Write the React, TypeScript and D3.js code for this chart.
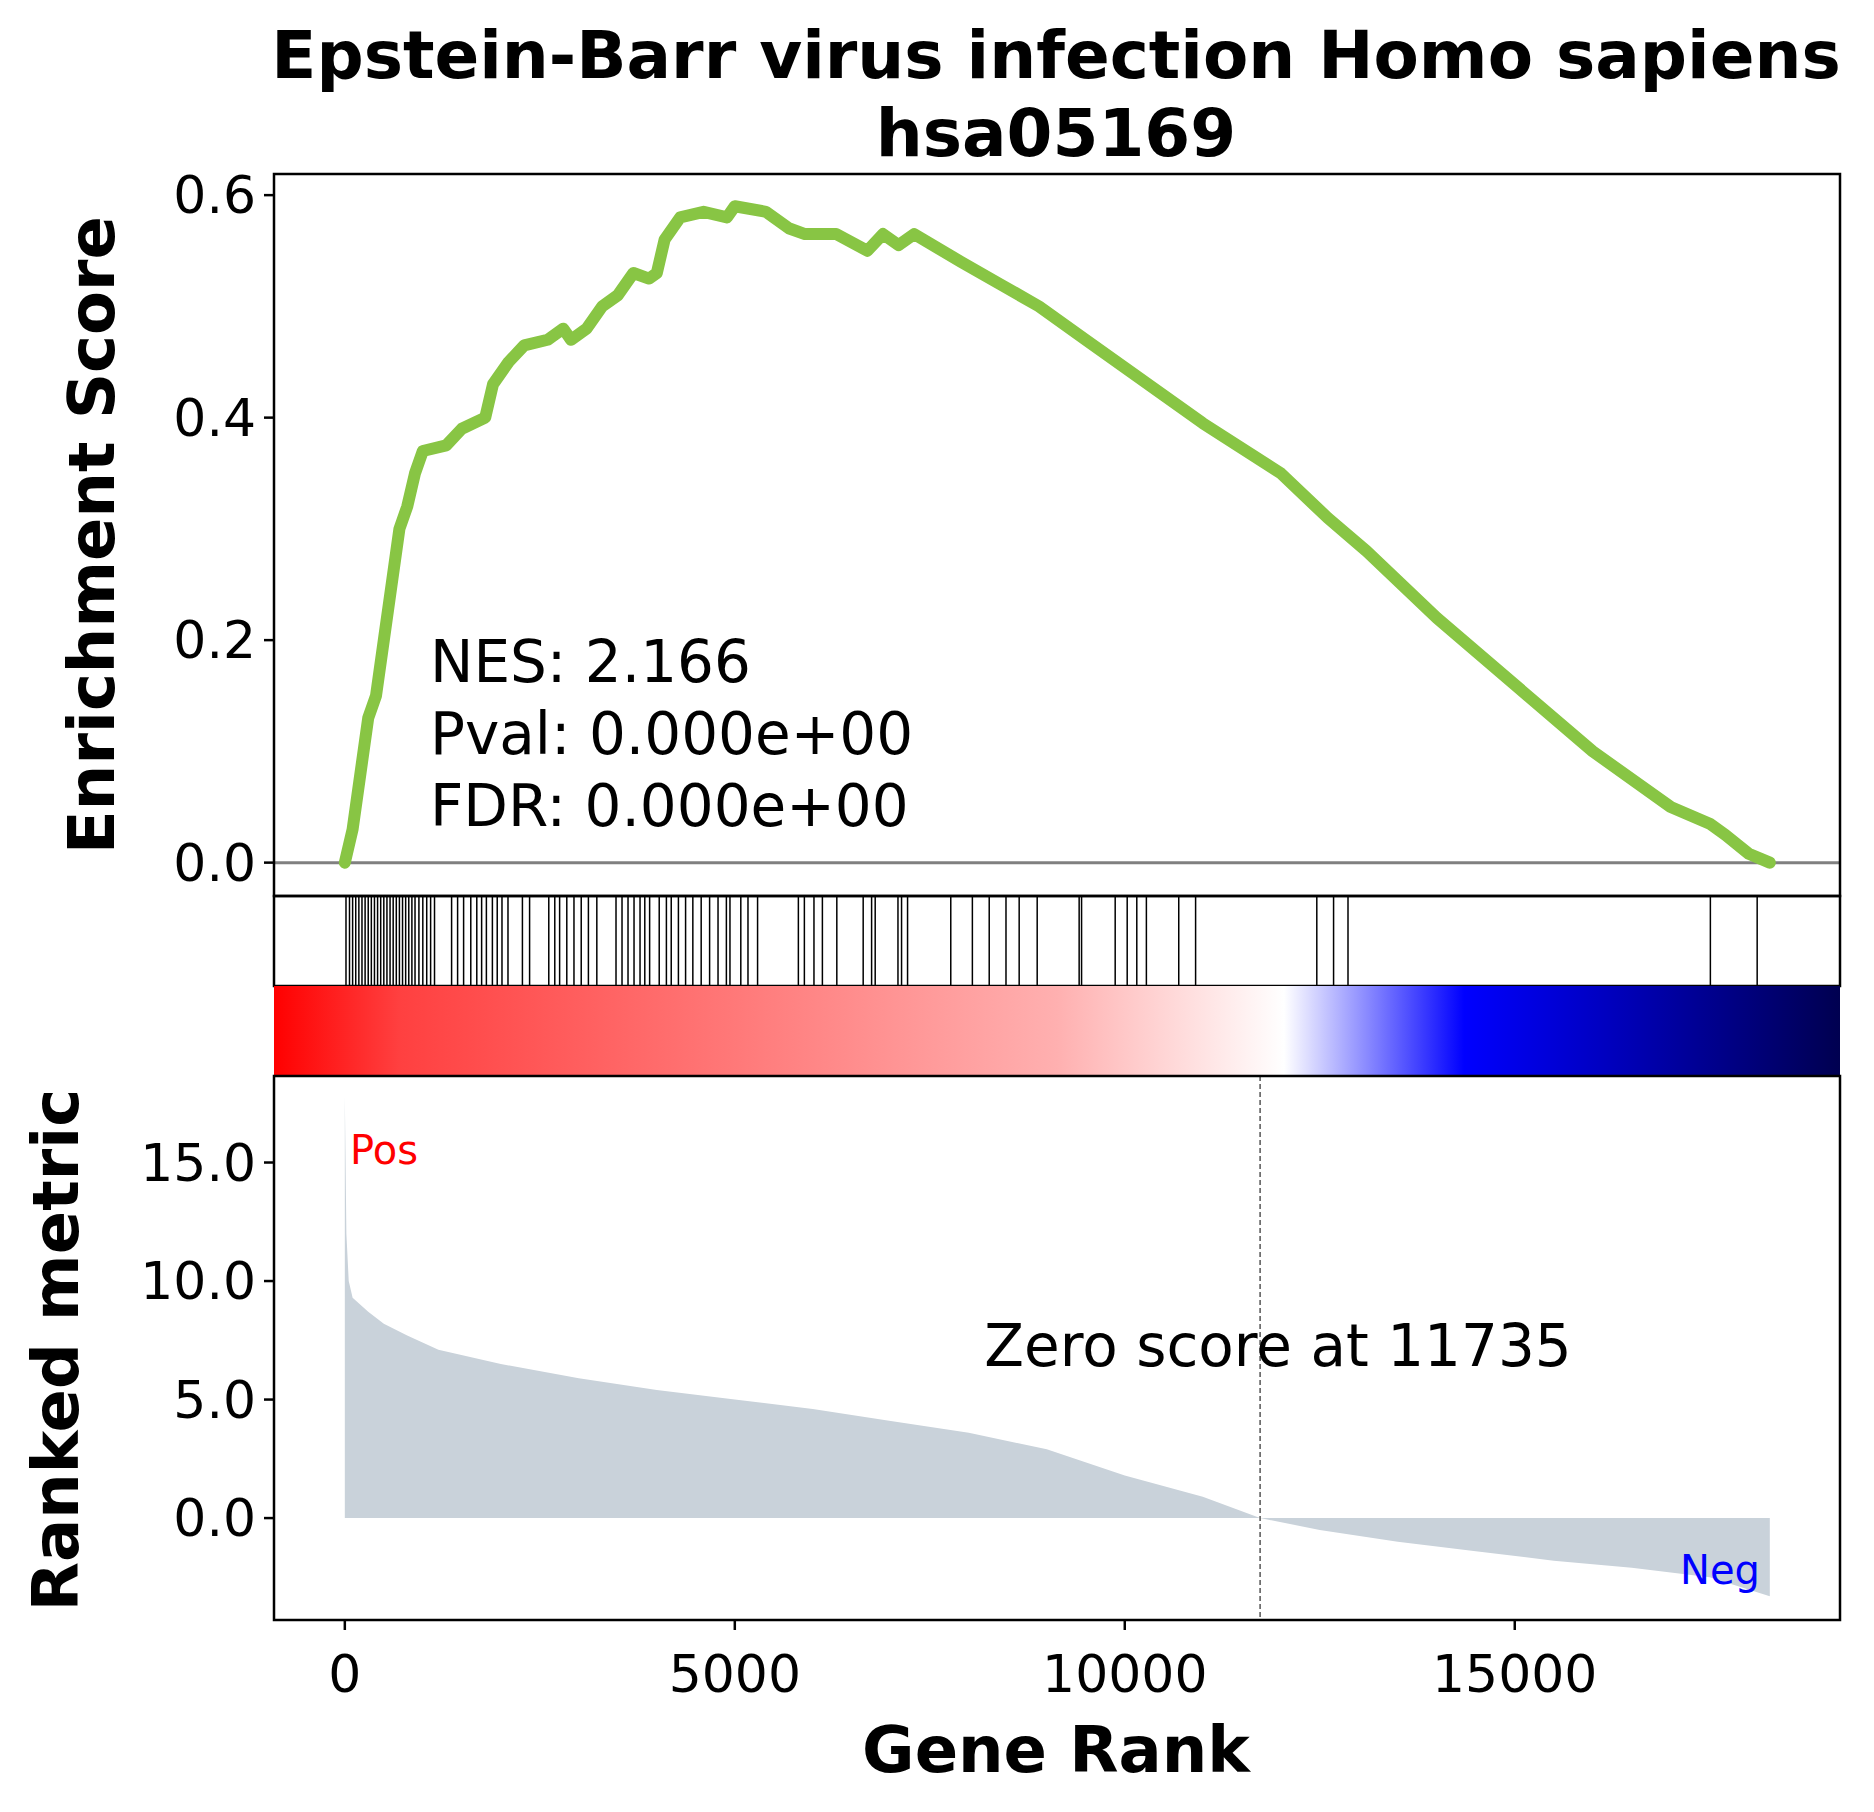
import React from 'react';
import * as d3 from 'd3';

const esCurve: [number, number][] = [
  [0, 0], [100, 0.03], [200, 0.08], [300, 0.13], [400, 0.15], [500, 0.2], [600, 0.25], [700, 0.3],
  [800, 0.32], [900, 0.35], [1000, 0.37], [1300, 0.375], [1500, 0.39], [1800, 0.4], [1900, 0.43],
  [2100, 0.45], [2300, 0.465], [2600, 0.47], [2800, 0.48], [2900, 0.47], [3100, 0.48], [3300, 0.5],
  [3500, 0.51], [3700, 0.53], [3900, 0.525], [4000, 0.53], [4100, 0.56], [4300, 0.58], [4600, 0.585],
  [4900, 0.58], [5000, 0.59], [5400, 0.585], [5700, 0.57], [5900, 0.565], [6300, 0.565], [6700, 0.55],
  [6900, 0.565], [7100, 0.555], [7300, 0.565], [7900, 0.54], [8400, 0.52], [8900, 0.5], [9500, 0.47],
  [10000, 0.445], [10500, 0.42], [11000, 0.395], [12000, 0.35], [12600, 0.31], [13100, 0.28],
  [14000, 0.22], [15000, 0.16], [16000, 0.1], [17000, 0.05], [17500, 0.035], [17700, 0.025],
  [18000, 0.008], [18270, 0],
];

const hitRanks = [
  15, 60, 100, 140, 180, 220, 260, 300, 340, 380, 420, 460, 500, 540, 580, 620, 660, 700, 740, 780,
  820, 860, 900, 950, 1000, 1050, 1100, 1150, 1369, 1446, 1523, 1615, 1692, 1754, 1815, 1892, 1954,
  2015, 2092, 2277, 2369, 2615, 2692, 2754, 2846, 2938, 3031, 3123, 3231, 3477, 3554, 3631, 3708,
  3785, 3846, 3908, 4031, 4123, 4185, 4277, 4369, 4462, 4569, 4677, 4785, 4892, 4938, 5077, 5169,
  5292, 5815, 5892, 6015, 6123, 6308, 6646, 6754, 6800, 7092, 7138, 7215, 7769, 8046, 8262, 8477,
  8646, 8877, 9415, 9446, 9877, 10031, 10154, 10277, 10692, 10908, 12462, 12677, 12862, 17508, 18108,
];

const rankedMetric: [number, number][] = [
  [0, 17.8], [20, 12], [50, 10], [100, 9.3], [300, 8.7], [500, 8.2], [800, 7.7], [1200, 7.1],
  [2000, 6.5], [3000, 5.9], [4000, 5.4], [5000, 5.0], [6000, 4.6], [7000, 4.1], [8000, 3.6],
  [9000, 2.9], [10000, 1.8], [11000, 0.9], [11735, 0], [12500, -0.5], [13500, -1.0], [14500, -1.4],
  [15500, -1.8], [16500, -2.1], [17500, -2.5], [18270, -3.3],
];

const esTicks = [0, 0.2, 0.4, 0.6];
const metricTicks = [0, 5, 10, 15];
const rankTicks = [0, 5000, 10000, 15000];

const L = 274, R = 1840;
const T1 = 174, B1 = 896, B2 = 986, B3 = 1076, B4 = 1620;
const font = 'DejaVu Sans';

export default function App() {
  const x = d3.scaleLinear().domain([-908, 19170]).range([L, R]);
  const yEs = d3.scaleLinear().domain([-0.030, 0.619]).range([B1, T1]);
  const yM = d3.scaleLinear().domain([-4.3, 18.65]).range([B4, B3]);

  const esLine = d3.line<[number, number]>().x(d => x(d[0])).y(d => yEs(d[1]));
  const area = d3.area<[number, number]>().x(d => x(d[0])).y0(yM(0)).y1(d => yM(d[1]));

  const stops: [number, string][] = [
    [0, '#ff0000'], [0.08, '#ff4040'], [0.3, '#ff7a7a'], [0.5, '#ffb0b0'],
    [0.645, '#ffffff'], [0.76, '#0000ff'], [0.85, '#0000c0'], [1, '#000050'],
  ];

  return (
    <svg width={1874} height={1812} style={{ display: 'block', margin: -8 }} fontFamily={font}>
      <defs>
        <linearGradient id="cb" x1="0" x2="1" y1="0" y2="0">
          {stops.map(([o, c]) => <stop key={o} offset={o} stopColor={c} />)}
        </linearGradient>
      </defs>
      <text x={1056} y={78} textAnchor="middle" fontSize={66} fontWeight="bold">Epstein-Barr virus infection Homo sapiens</text>
      <text x={1056} y={156} textAnchor="middle" fontSize={66} fontWeight="bold">hsa05169</text>

      {/* ES panel */}
      <line x1={L} x2={R} y1={yEs(0)} y2={yEs(0)} stroke="#808080" strokeWidth={3} />
      <path d={esLine(esCurve)!} fill="none" stroke="#88c544" strokeWidth={12} strokeLinejoin="round" strokeLinecap="round" />
      {esTicks.map(t => (
        <g key={t}>
          <line x1={L - 10} x2={L} y1={yEs(t)} y2={yEs(t)} stroke="black" strokeWidth={2.5} />
          <text x={L - 18} y={yEs(t) + 18} textAnchor="end" fontSize={52}>{t.toFixed(1)}</text>
        </g>
      ))}
      {['NES: 2.166', 'Pval: 0.000e+00', 'FDR: 0.000e+00'].map((s, i) => (
        <text key={s} x={430} y={682 + i * 72} fontSize={58}>{s}</text>
      ))}
      <text transform={`translate(${114},${(T1 + B1) / 2}) rotate(-90)`} textAnchor="middle" fontSize={64} fontWeight="bold">Enrichment Score</text>
      <rect x={L} y={T1} width={R - L} height={B1 - T1} fill="none" stroke="black" strokeWidth={2.5} />

      {/* hits */}
      {hitRanks.map((r, i) => (
        <line key={i} x1={x(r)} x2={x(r)} y1={B1} y2={B2} stroke="black" strokeWidth={1.5} />
      ))}
      <rect x={L} y={B1} width={R - L} height={B2 - B1} fill="none" stroke="black" strokeWidth={2.5} />

      {/* colorbar */}
      <rect x={L} y={B2} width={R - L} height={B3 - B2} fill="url(#cb)" />

      {/* ranked metric */}
      <path d={area(rankedMetric)!} fill="#c9d2da" />
      <line x1={x(11735)} x2={x(11735)} y1={B3} y2={B4} stroke="#555" strokeWidth={1.5} strokeDasharray="5,3" />
      <text x={1278} y={1366} textAnchor="middle" fontSize={58}>Zero score at 11735</text>
      <text x={350} y={1164} fontSize={40} fill="red">Pos</text>
      <text x={1760} y={1584} textAnchor="end" fontSize={40} fill="blue">Neg</text>
      {metricTicks.map(t => (
        <g key={t}>
          <line x1={L - 10} x2={L} y1={yM(t)} y2={yM(t)} stroke="black" strokeWidth={2.5} />
          <text x={L - 18} y={yM(t) + 18} textAnchor="end" fontSize={52}>{t.toFixed(1)}</text>
        </g>
      ))}
      {rankTicks.map(t => (
        <g key={t}>
          <line x1={x(t)} x2={x(t)} y1={B4} y2={B4 + 10} stroke="black" strokeWidth={2.5} />
          <text x={x(t)} y={1692} textAnchor="middle" fontSize={52}>{t}</text>
        </g>
      ))}
      <text transform={`translate(${78},${1350}) rotate(-90)`} textAnchor="middle" fontSize={64} fontWeight="bold">Ranked metric</text>
      <text x={1056} y={1772} textAnchor="middle" fontSize={64} fontWeight="bold">Gene Rank</text>
      <rect x={L} y={B3} width={R - L} height={B4 - B3} fill="none" stroke="black" strokeWidth={2.5} />
    </svg>
  );
}
